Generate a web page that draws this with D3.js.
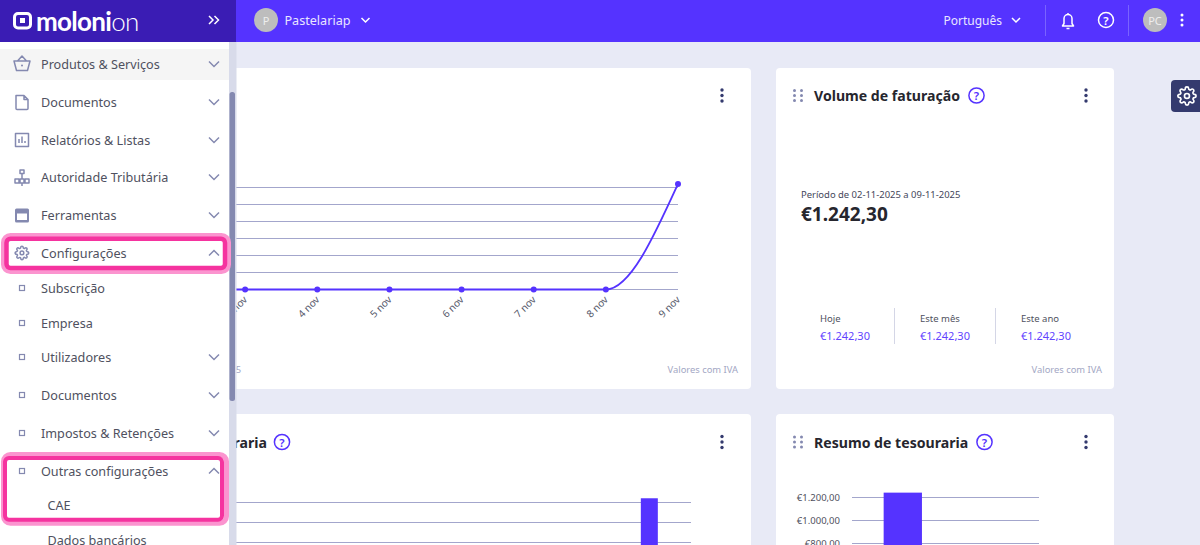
<!DOCTYPE html>
<html><head><meta charset="utf-8">
<script src="https://cdn.jsdelivr.net/npm/d3@7/dist/d3.min.js"></script>
<style>html,body{margin:0;padding:0;overflow:hidden;background:#e8eaf6}svg{display:block}text{font-family:"Noto Sans",sans-serif}</style>
</head><body><div id="c"></div>
<script>
const lineDates=['2 nov','3 nov','4 nov','5 nov','6 nov','7 nov','8 nov','9 nov'];
const lineValues=[0,0,0,0,0,0,0,1242.30];
const lineTicks=[0,200,400,600,800,1000,1200];
const cashCats=['jun','jul','ago','set','out','nov'];
const cashValues=[0,0,0,0,0,1242.30];
const cashTicks=[800,1000,1200];
const resumoCats=['Recebimentos','Pagamentos'];
const resumoValues=[1242.30,0];
const resumoTicks=[800,1000,1200];
const resumoLabels=['€800,00','€1.000,00','€1.200,00'];
const stats=['Hoje','Este mês','Este ano'];
const statValues=['€1.242,30','€1.242,30','€1.242,30'];
const menuMain=['Produtos & Serviços','Documentos','Relatórios & Listas','Autoridade Tributária','Ferramentas','Configurações'];
const menuSub=['Subscrição','Empresa','Utilizadores','Documentos','Impostos & Retenções','Outras configurações'];

const P='#5533ff',GRID='#a3a6cc',NAVY='#343a6e',SLATE='#8489b0',INK='#4f5160';
const gearPath='M12 15a3 3 0 1 0 0-6 3 3 0 0 0 0 6z M19.4 15a1.65 1.65 0 0 0 .33 1.82l.06.06a2 2 0 0 1 0 2.83 2 2 0 0 1-2.83 0l-.06-.06a1.65 1.65 0 0 0-1.82-.33 1.65 1.65 0 0 0-1 1.51V21a2 2 0 0 1-2 2 2 2 0 0 1-2-2v-.09A1.65 1.65 0 0 0 9 19.4a1.65 1.65 0 0 0-1.82.33l-.06.06a2 2 0 0 1-2.83 0 2 2 0 0 1 0-2.83l.06-.06a1.65 1.65 0 0 0 .33-1.82 1.65 1.65 0 0 0-1.51-1H3a2 2 0 0 1-2-2 2 2 0 0 1 2-2h.09A1.65 1.65 0 0 0 4.6 9a1.65 1.65 0 0 0-.33-1.82l-.06-.06a2 2 0 0 1 0-2.83 2 2 0 0 1 2.83 0l.06.06a1.65 1.65 0 0 0 1.82.33H9a1.65 1.65 0 0 0 1-1.51V3a2 2 0 0 1 2-2 2 2 0 0 1 2 2v.09a1.65 1.65 0 0 0 1 1.51 1.65 1.65 0 0 0 1.82-.33l.06-.06a2 2 0 0 1 2.83 0 2 2 0 0 1 0 2.83l-.06.06a1.65 1.65 0 0 0-.33 1.82V9a1.65 1.65 0 0 0 1.51 1H21a2 2 0 0 1 2 2 2 2 0 0 1-2 2h-.09a1.65 1.65 0 0 0-1.51 1z';

const svg=d3.select('#c').append('svg').attr('width',1200).attr('height',545);
const txt=(g,x,y,s,size,fill,o={})=>g.append('text').attr('x',x).attr('y',y).attr('font-size',size).attr('fill',fill)
  .attr('font-weight',o.w||400).attr('text-anchor',o.a||'start').attr('dominant-baseline','central').text(s);
const chev=(g,x,y,up,col,w=1.5,r=5)=>g.append('path').attr('d',up?`M${x-r},${y+r/2}L${x},${y-r/2}L${x+r},${y+r/2}`:`M${x-r},${y-r/2}L${x},${y+r/2}L${x+r},${y-r/2}`).attr('fill','none').attr('stroke',col).attr('stroke-width',w);
const help=(g,x,y,col,r=7.6)=>{g.append('circle').attr('cx',x).attr('cy',y).attr('r',r).attr('fill','none').attr('stroke',col).attr('stroke-width',1.5);txt(g,x,y,'?',11.5,col,{a:'middle',w:600});};
const dots=(g,x,y,col)=>[-5.5,0,5.5].forEach(d=>g.append('circle').attr('cx',x).attr('cy',y+d).attr('r',1.7).attr('fill',col));
const handle=(g,x,y)=>[-3.5,3.5].forEach(dx=>[-5,0,5].forEach(dy=>g.append('circle').attr('cx',x+dx).attr('cy',y+dy).attr('r',1.5).attr('fill',SLATE)));
const card=(x,y,w,h)=>svg.append('rect').attr('x',x).attr('y',y).attr('width',w).attr('height',h).attr('rx',4).attr('fill','#fff');
const gridOnly=(g,x,scale,ticks,len)=>g.append('g').attr('transform',`translate(${x},0)`).call(d3.axisLeft(scale).offset(0).tickValues(ticks).tickSize(len).tickFormat('')).call(a=>{a.select('.domain').remove();a.selectAll('line').attr('stroke',GRID)});

/* cards */
card(150,68,601,321);card(776,68,338,321);card(150,414,601,160);card(776,414,338,160);

/* line chart */
const x1=d3.scalePoint().domain(lineDates).range([173,678]);
const y1=d3.scaleLinear().domain([0,1200]).range([289.5,187.5]);
const g1=svg.append('g');
gridOnly(g1,678,y1,lineTicks,505);
g1.append('path').attr('fill','none').attr('stroke',P).attr('stroke-width',1.8)
  .attr('d',d3.line().x((d,i)=>x1(lineDates[i])).y(d=>y1(d)).curve(d3.curveMonotoneX)(lineValues));
g1.selectAll('circle').data(lineValues).join('circle').attr('cx',(d,i)=>x1(lineDates[i])).attr('cy',d=>y1(d)).attr('r',3).attr('fill',P);
g1.selectAll('text.xl').data(lineDates).join('text').attr('class','xl').text(d=>d)
  .attr('transform',d=>`translate(${x1(d)},${297.5}) rotate(-45)`).attr('text-anchor','end').attr('dominant-baseline','central').attr('font-size',10).attr('fill','#55586a');
txt(svg,738,369,'Valores com IVA',9.4,'#a3a7c4',{a:'end'});
txt(svg,241,369,'2025',9.4,'#a3a7c4',{a:'end'});

/* volume card */
handle(svg,798,95.5);txt(svg,814,95.5,'Volume de faturação',14.1,'#26262e',{w:700});help(svg,976.5,95.5,P);dots(svg,1086,95.5,NAVY);
txt(svg,801,194,'Período de 02-11-2025 a 09-11-2025',9.45,'#44465a');
txt(svg,801,214,'€1.242,30',19,'#26262e',{w:700});
stats.forEach((s,i)=>{const x=[820,920,1021][i];txt(svg,x,318,s,9.5,INK);txt(svg,x,335,statValues[i],11,'#6244ff');});
[894.5,995.5].forEach(x=>svg.append('line').attr('x1',x).attr('x2',x).attr('y1',308).attr('y2',344).attr('stroke','#d4d6e6'));
txt(svg,1102,369,'Valores com IVA',9.4,'#a3a7c4',{a:'end'});
dots(svg,722,95.5,NAVY);

/* treasury cards */
txt(svg,267,442,'tesouraria',14.1,'#26262e',{w:700,a:'end'});help(svg,282,442,P);dots(svg,722,442,NAVY);
const x2=d3.scaleBand().domain(cashCats).range([193,691]).paddingInner(0.795).paddingOuter(0.4);
const y2=d3.scaleLinear().domain([800,1200]).range([542.5,502.5]);
const g2=svg.append('g');
gridOnly(g2,691,y2,cashTicks,498);
g2.selectAll('rect').data(cashValues).join('rect').attr('x',(d,i)=>x2(cashCats[i])).attr('width',x2.bandwidth()).attr('y',d=>d?y2(d):560).attr('height',d=>d?560-y2(d):0).attr('fill',P);

handle(svg,798,442);txt(svg,814,442,'Resumo de tesouraria',14.1,'#26262e',{w:700});help(svg,984.5,442,P);dots(svg,1086,442,NAVY);
const x3=d3.scaleBand().domain(resumoCats).range([852,1039]).paddingInner(0.49).paddingOuter(0.49).align(0.43);
const y3=d3.scaleLinear().domain([800,1200]).range([543.5,497.5]);
const g3=svg.append('g');
gridOnly(g3,1039,y3,resumoTicks,187);
g3.selectAll('rect').data(resumoValues).join('rect').attr('x',(d,i)=>x3(resumoCats[i])).attr('width',x3.bandwidth()).attr('y',d=>d?y3(d):560).attr('height',d=>d?560-y3(d):0).attr('fill',P);
resumoTicks.forEach((t,i)=>txt(g3,840,y3(t),resumoLabels[i],9.5,INK,{a:'end'}));

/* right gear tab */
svg.append('path').attr('d','M1200,80H1175a4,4 0 0 0 -4,4V108a4,4 0 0 0 4,4H1200Z').attr('fill',NAVY);
svg.append('path').attr('d',gearPath).attr('transform','translate(1177,86) scale(0.83)').attr('fill','none').attr('stroke','#fff').attr('stroke-width',2);

/* sidebar */
svg.append('rect').attr('x',229).attr('y',42).attr('width',7.5).attr('height',503).attr('fill','#d8dbea');
svg.append('rect').attr('x',229.5).attr('y',92).attr('width',5.5).attr('height',309).attr('rx',2.5).attr('fill',SLATE);
svg.append('rect').attr('x',0).attr('y',42).attr('width',229).attr('height',503).attr('fill','#fff');
svg.append('rect').attr('x',0).attr('y',49).attr('width',229).attr('height',31).attr('fill','#f5f5f5');
const side=svg.append('g');
const ySide=[64,102,140,177,215,253];
const FS=12.65;
menuMain.forEach((m,i)=>{txt(side,41,ySide[i]-0.5,m,FS,INK);chev(side,214,ySide[i],i===5,SLATE);});
const ic=d=>side.append('path').attr('d',d).attr('fill','none').attr('stroke',SLATE).attr('stroke-width',1.5).attr('stroke-linejoin','round');
ic('M14,61H30L27.5,70.5H16.5Z M17.5,61L22,56L26.5,61');side.append('circle').attr('cx',22).attr('cy',65.5).attr('r',1).attr('fill',SLATE);
ic('M16,95.5H24L28,99.5V108.5a1,1 0 0 1 -1,1H17a1,1 0 0 1 -1,-1Z M24,95.5V99.5H28');
ic('M15.5,133.5H28.5V146.5H15.5Z M19,143V139 M22,143V136.5 M25,143V141');
ic('M20,170H24V173.5H20Z M15,179H19V183H15Z M20,179H24V183H20Z M25,179H29V183H25Z M22,173.5V179 M22,183V186');
side.append('rect').attr('x',15).attr('y',208.5).attr('width',14).attr('height',14).attr('rx',1.5).attr('fill',SLATE);
side.append('rect').attr('x',17).attr('y',213.5).attr('width',10).attr('height',6.5).attr('fill','#fff');
side.append('path').attr('d',gearPath).attr('transform','translate(14.5,245.5) scale(0.62)').attr('fill','none').attr('stroke',SLATE).attr('stroke-width',2.4);
const ySub=[288,323,357,395,433,471];
menuSub.forEach((m,i)=>{txt(side,41,ySub[i]-0.5,m,FS,INK);
  side.append('rect').attr('x',19.5).attr('y',ySub[i]-2.5).attr('width',5).attr('height',5).attr('fill','none').attr('stroke',SLATE).attr('stroke-width',1.2);
  if(i>=2)chev(side,214,ySub[i],i===5,SLATE);});
txt(side,47.5,505,'CAE',FS,INK);txt(side,47.5,539.5,'Dados bancários',FS,INK);

/* pink highlights */
[[3.5,235.5,225,36,6.5,238.7,218.5,29.3,4.5],[3.5,454.5,223,68.7,5,458,217,61.7,4]].forEach(r=>{
 svg.append('rect').attr('x',r[0]).attr('y',r[1]).attr('width',r[2]).attr('height',r[3]).attr('rx',7).attr('fill','none').attr('stroke','#fb94cf').attr('stroke-width',5);
 svg.append('rect').attr('x',r[4]).attr('y',r[5]).attr('width',r[6]).attr('height',r[7]).attr('rx',4).attr('fill','none').attr('stroke','#f5339f').attr('stroke-width',r[8]);
});

/* top bar */
svg.append('rect').attr('width',1200).attr('height',42).attr('fill',P);
svg.append('rect').attr('width',236).attr('height',42).attr('fill','#3a1cb4');
svg.append('rect').attr('x',14.5).attr('y',13.5).attr('width',16).attr('height',14.5).attr('rx',3.5).attr('fill','none').attr('stroke','#fff').attr('stroke-width',3);
svg.append('rect').attr('x',20).attr('y',18).attr('width',5).attr('height',5).attr('fill','#fff');
const lg=svg.append('text').attr('x',36).attr('y',21).attr('dominant-baseline','central').attr('font-size',26).attr('letter-spacing',-0.7).attr('fill','#fff').style('font-family','Lato,sans-serif');
lg.append('tspan').attr('font-weight',700).text('moloni');lg.append('tspan').attr('font-weight',300).text('on');
[209,214.5].forEach(x=>svg.append('path').attr('d',`M${x},16L${x+4},20L${x},24`).attr('fill','none').attr('stroke','#fff').attr('stroke-width',1.5));
svg.append('circle').attr('cx',266).attr('cy',20).attr('r',12).attr('fill','#bdbdbd');txt(svg,266,20,'P',11,'#eee',{a:'middle'});
txt(svg,284.5,20,'Pastelariap',12.6,'#e9e6ff');chev(svg,365.5,20,false,'#fff',1.5,4);
txt(svg,943.5,20.5,'Português',12,'#e9e6ff');chev(svg,1016,20,false,'#fff',1.5,4);
[1045.5,1128.5].forEach(x=>svg.append('line').attr('x1',x).attr('x2',x).attr('y1',5).attr('y2',36).attr('stroke','#7a63ff'));
svg.append('path').attr('d','M1062.5,26H1073.5L1072,23.5V18.5a4,4 0 0 0 -8,0V23.5Z M1066.5,28.5H1069.5 M1068,13V14.5').attr('fill','none').attr('stroke','#fff').attr('stroke-width',1.5).attr('stroke-linejoin','round');
help(svg,1106,20,'#fff',7.5);
svg.append('circle').attr('cx',1155).attr('cy',20).attr('r',12).attr('fill','#bdbdbd');txt(svg,1155,20,'PC',11,'#eee',{a:'middle'});
[-5,0,5].forEach(d=>svg.append('circle').attr('cx',1182).attr('cy',20+d).attr('r',1.5).attr('fill','#fff'));
</script></body></html>
